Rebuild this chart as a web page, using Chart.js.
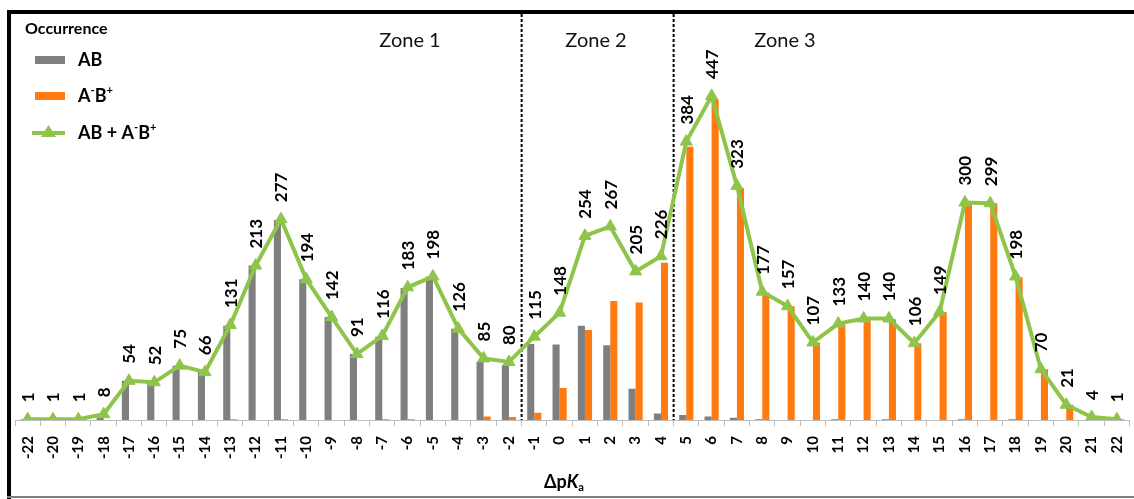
<!DOCTYPE html>
<html>
<head>
<meta charset="UTF-8">
<script src="https://cdn.jsdelivr.net/npm/chart.js@4"></script>
<style>
html, body { margin: 0; padding: 0; background: #fff; overflow: hidden; }
canvas { display: block; }
</style>
</head>
<body>
<canvas id="chart" width="1145" height="499"></canvas>
<script>
// categorias (ΔpKa) — ojo: no hay -21 en el original
const categories = ['-22','-20','-19','-18','-17','-16','-15','-14','-13','-12','-11','-10','-9','-8','-7','-6','-5','-4','-3','-2',
  '-1','0','1','2','3','4','5','6','7','8','9','10','11','12','13','14','15','16','17','18','19','20','21','22'];
const abValues = [1,1,1,8,54,52,75,66,130,213,276,194,142,91,115,182,198,126,80,76,
  105,104,130,103,43,9,7,5,3,1,0,0,1,0,1,0,0,1,0,1,0,0,0,0];
const aMinusBPlusValues = [0,0,0,0,0,0,0,0,1,0,1,0,0,0,1,1,0,0,5,4,
  10,44,124,164,162,217,377,442,320,176,157,107,132,140,139,106,149,299,299,197,70,21,4,1];
const totalValues = [1,1,1,8,54,52,75,66,131,213,277,194,142,91,116,183,198,126,85,80,
  115,148,254,267,205,226,384,447,323,177,157,107,133,140,140,106,149,300,299,198,70,21,4,1];
const zoneNames = ['Zone 1', 'Zone 2', 'Zone 3'];
const zoneBreaks = ['-2', '4'];   // linea discontinua despues de estas categorias

const GREY = '#7f7f7f', ORANGE = '#ff7a10', GREEN = '#8fc44a';
const FONT = 'Lato, "Open Sans", sans-serif';

// texto con super/subindices, trozo a trozo
function drawRich(ctx, parts, x, y, size) {
  ctx.textAlign = 'left';
  ctx.textBaseline = 'middle';
  for (const p of parts) {
    const s = (p.sup || p.sub) ? size * 0.62 : size;
    ctx.font = `${p.italic ? 'italic ' : ''}bold ${s}px ${FONT}`;
    const dy = p.sup ? -size * 0.3 : p.sub ? size * 0.32 : 0;
    ctx.fillText(p.t, x, y + dy);
    x += ctx.measureText(p.t).width + (p.gap || 0);
  }
}

const extras = {
  id: 'extras',
  beforeDatasetsDraw(chart) {
    const ctx = chart.ctx, xs = chart.scales.x, area = chart.chartArea;
    ctx.save();
    ctx.strokeStyle = '#000';
    ctx.lineWidth = 2;
    ctx.setLineDash([3, 2]);
    for (const c of zoneBreaks) {
      const i = categories.indexOf(c);
      const x = (xs.getPixelForValue(i) + xs.getPixelForValue(i + 1)) / 2;
      ctx.beginPath();
      ctx.moveTo(x, area.top);
      ctx.lineTo(x, area.bottom);
      ctx.stroke();
    }
    ctx.restore();
  },
  afterDraw(chart) {
    const ctx = chart.ctx;
    const W = chart.width;
    ctx.save();
    // marco
    ctx.fillStyle = '#000';
    ctx.fillRect(7, 10, W, 4);
    ctx.fillRect(7, 10, 4, 489);
    ctx.fillStyle = '#808080';
    ctx.fillRect(7, 496, W, 2);

    // etiquetas de datos sobre la linea
    const meta = chart.getDatasetMeta(2);
    ctx.fillStyle = '#000';
    ctx.font = `bold 17px ${FONT}`;
    ctx.textAlign = 'left';
    ctx.textBaseline = 'middle';
    meta.data.forEach((pt, i) => {
      ctx.save();
      ctx.translate(pt.x + 1, pt.y - 17);
      ctx.rotate(-Math.PI / 2);
      ctx.fillText(String(totalValues[i]), 0, 0);
      ctx.restore();
    });

    // zonas
    ctx.font = `20px ${FONT}`;
    ctx.textAlign = 'center';
    ctx.fillStyle = '#111';
    [410, 596, 785].forEach((x, i) => ctx.fillText(zoneNames[i], x, 41));

    // leyenda
    ctx.fillStyle = '#000';
    ctx.textAlign = 'left';
    ctx.font = `bold 16px ${FONT}`;
    ctx.fillText('Occurrence', 25, 29);
    ctx.fillStyle = GREY;
    ctx.fillRect(35, 56, 30, 8);
    ctx.fillStyle = ORANGE;
    ctx.fillRect(35, 92, 30, 8);
    ctx.strokeStyle = GREEN;
    ctx.lineWidth = 4;
    ctx.beginPath();
    ctx.moveTo(32, 133);
    ctx.lineTo(65, 133);
    ctx.stroke();
    ctx.fillStyle = GREEN;
    ctx.beginPath();
    ctx.moveTo(48.5, 125);
    ctx.lineTo(56, 137);
    ctx.lineTo(41, 137);
    ctx.closePath();
    ctx.fill();
    ctx.fillStyle = '#000';
    drawRich(ctx, [{t: 'AB'}], 78, 60, 18);
    drawRich(ctx, [{t: 'A'}, {t: '-', sup: true}, {t: 'B'}, {t: '+', sup: true}], 78, 96, 18);
    drawRich(ctx, [{t: 'AB + A'}, {t: '-', sup: true}, {t: 'B'}, {t: '+', sup: true}], 78, 133, 18);

    // titulo eje x
    drawRich(ctx, [{t: 'Δp'}, {t: 'K', italic: true}, {t: 'a', sub: true}], 544, 482, 18);
    ctx.restore();
  }
};

new Chart(document.getElementById('chart'), {
  type: 'bar',
  data: {
    labels: categories,
    datasets: [
      { label: 'AB', data: abValues, backgroundColor: GREY, order: 2,
        categoryPercentage: 0.56, barPercentage: 1.0 },
      { label: 'A-B+', data: aMinusBPlusValues, backgroundColor: ORANGE, order: 2,
        categoryPercentage: 0.56, barPercentage: 1.0 },
      { type: 'line', label: 'AB + A-B+', data: totalValues, borderColor: GREEN, backgroundColor: GREEN,
        borderWidth: 4, tension: 0, pointStyle: 'triangle', pointRadius: 7,
        pointBackgroundColor: GREEN, pointBorderColor: GREEN, pointBorderWidth: 1, order: 0 }
    ]
  },
  options: {
    responsive: false,
    animation: false,
    layout: { padding: { left: 15, right: 4, top: 14, bottom: 0 } },
    plugins: { legend: { display: false }, tooltip: { enabled: false } },
    scales: {
      x: {
        afterFit(scale) { scale.height = 79; },
        grid: { display: true, drawOnChartArea: false, drawTicks: true, tickLength: 6, color: '#bdbdbd', offset: true },
        border: { display: true, color: '#bdbdbd', width: 1 },
        ticks: { autoSkip: false, minRotation: 90, maxRotation: 90, padding: 10, color: '#000',
          font: { family: FONT, weight: 'bold', size: 15 } }
      },
      y: { display: false, min: 0, max: 560 }
    }
  },
  plugins: [extras]
});
</script>
</body>
</html>
